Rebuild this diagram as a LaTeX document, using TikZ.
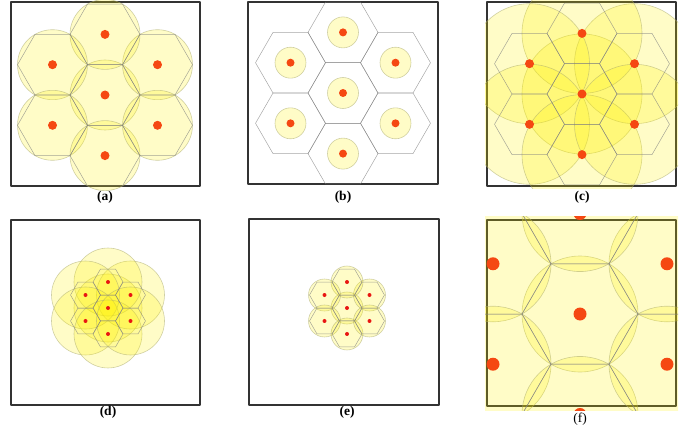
\documentclass[tikz,border=0pt]{standalone}
\usepackage{fontspec}
\setmainfont{Liberation Serif}

% hexagon centres of one panel: the middle one and its six neighbours
\def\cellsites{0/0,30/1,90/1,150/1,210/1,270/1,330/1}
% #1 centre, #2 hexagon radius, #3 cover radius, #4 dot radius, #5 dot colour
\newcommand{\cellpanel}[5]{%
  \begin{scope}[shift={(#1)}]
    \foreach \a/\d in \cellsites
      \draw[cover] (\a:{\d*1.732*#2}) circle ({#3});
    \foreach \a/\d in \cellsites
      \draw[hexline] (\a:{\d*1.732*#2}) ++(0:{#2}) -- ++(120:{#2}) -- ++(180:{#2})
        -- ++(240:{#2}) -- ++(300:{#2}) -- ++(0:{#2}) -- cycle;
    \foreach \a/\d in \cellsites
      \fill[#5] (\a:{\d*1.732*#2}) circle ({#4});
  \end{scope}}

\begin{document}
\begin{tikzpicture}[x=1pt, y=1pt, line join=round,
    cover/.style={fill=yellow, fill opacity=0.22, draw=coverrim, draw opacity=0.55, line width=0.6pt},
    hexline/.style={draw=gray, draw opacity=0.7, line width=0.5pt},
    frame/.style={draw=black!80, line width=1.2pt},
    caption/.style={font=\fontsize{13.5}{15}\selectfont\bfseries}]
  \definecolor{dotred}{RGB}{245,72,18}
  \definecolor{smallred}{RGB}{232,22,18}
  \definecolor{coverrim}{RGB}{170,170,110}
  \useasboundingbox (0,0) rectangle (694,-428);

  % (a) cover circle = hexagon circumcircle
  \draw[frame] (11,-2) rectangle (200,-186);
  \cellpanel{105,-95}{35}{35}{4.5}{dotred}
  \node[caption] (laba) at (105,-197) {(a)};

  % (b) small cover
  \draw[frame] (248,-2) rectangle (438,-184);
  \cellpanel{343,-93}{35}{15.5}{4}{dotred}
  \node[caption] (labb) at (343,-197) {(b)};

  % (c) large cover
  \draw[frame] (487,-2) rectangle (676,-186);
  \begin{scope}
    \clip (485,0) rectangle (678,-188);
    \cellpanel{582,-94}{35}{60}{4.5}{dotred}
  \end{scope}
  \node[caption] (labc) at (582,-197) {(c)};

  % (d) small cells, large cover
  \draw[frame] (11,-220) rectangle (200,-405);
  \cellpanel{108,-308}{15}{34}{2}{smallred}
  \node[caption] (labd) at (108,-412) {(d)};

  % (e) small cells, matching cover
  \draw[frame] (249,-219) rectangle (439,-405);
  \cellpanel{347,-308}{15}{16}{2}{smallred}
  \node[caption] (labe) at (347,-412) {(e)};

  % (f) large cells
  \draw[frame] (487,-220) rectangle (676,-406);
  \begin{scope}
    \clip (485,-216) rectangle (678,-410);
    \cellpanel{580,-314}{58}{58}{6.5}{dotred}
  \end{scope}
  \node[caption, font=\fontsize{13.5}{15}\selectfont] (labf) at (580,-419) {(f)};
\end{tikzpicture}
\end{document}
